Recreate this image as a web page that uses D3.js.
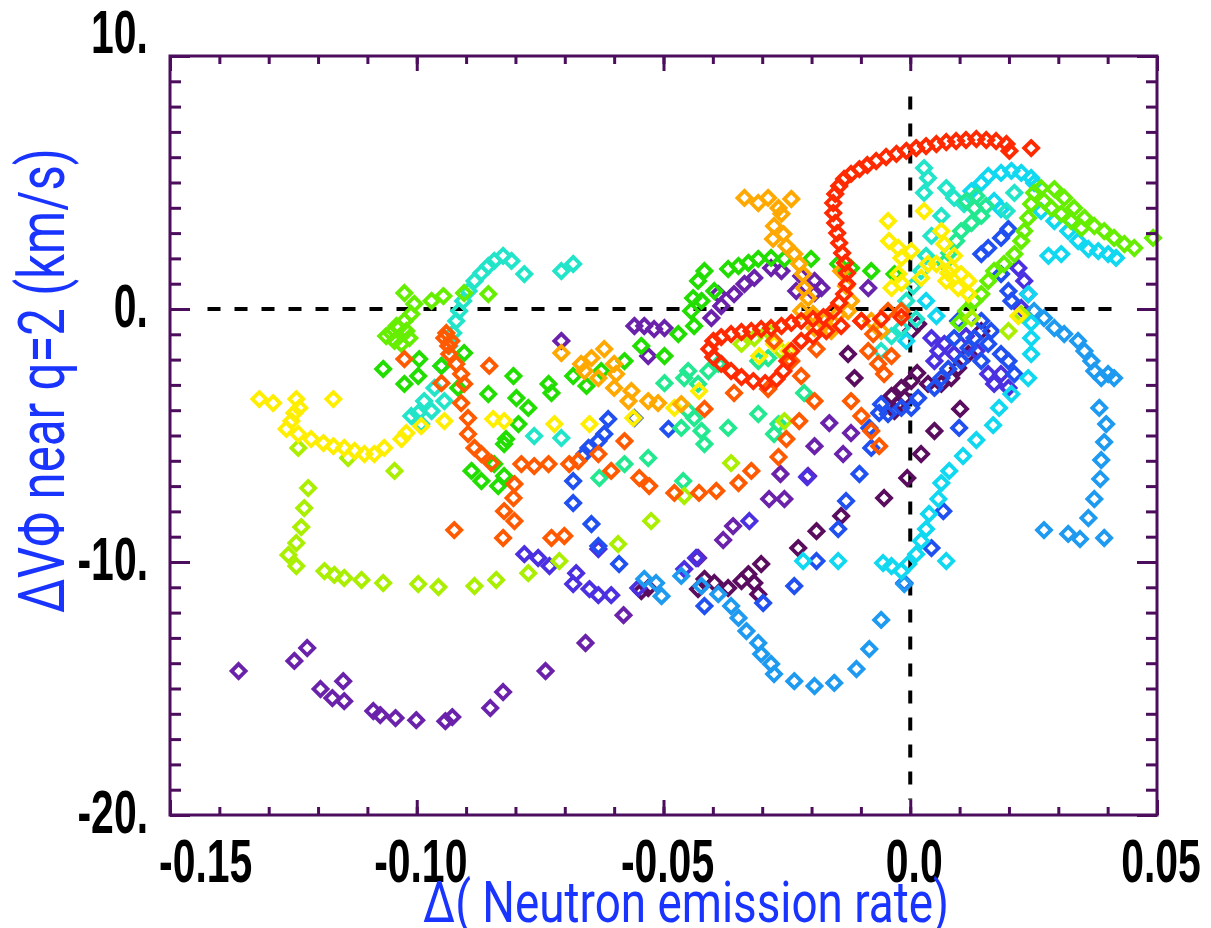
<!DOCTYPE html>
<html><head><meta charset="utf-8">
<script src="https://cdn.jsdelivr.net/npm/d3@7/dist/d3.min.js"></script>
<style>html,body{margin:0;padding:0;background:#fff;}svg{display:block;}</style>
</head><body>
<script>
// ---------------- data ----------------
const xDomain = [-0.15, 0.05];
const yDomain = [-20, 10];
const xTickValues = [-0.15, -0.10, -0.05, 0.0, 0.05];
const xTickLabels = ["-0.15", "-0.10", "-0.05", "0.0", "0.05"];
const yTickValues = [-20, -10, 0, 10];
const yTickLabels = ["-20.", "-10.", "0.", "10."];
const xTitle = "Δ( Neutron emission rate)";
const yTitle = "ΔVΦ near q=2 (km/s)";

const darkPurplePts = [[-0.0430,-11.07],[-0.0417,-10.67],[-0.0397,-10.83],[-0.0369,-11.03],[-0.0342,-10.75],[-0.0328,-10.48],[-0.0316,-10.83],[-0.0308,-11.27],[-0.0302,-10.08],[-0.0227,-9.45],[-0.0190,-8.78],[-0.0545,-11.15],[-0.0531,-11.03],[-0.0140,-8.18],[-0.0053,-7.47],[-0.0006,-6.68],[0.0022,-5.73],[0.0049,-4.82],[0.0101,-3.95],[-0.0018,-3.12],[-0.0012,-3.52],[0.0002,-2.85],[0.0014,-2.53],[-0.0024,-3.76],[0.0016,-0.59],[0.0002,-0.87],[0.0036,-2.96],[0.0063,-2.96],[0.0083,-2.73],[0.0097,-2.33],[0.0118,-1.78],[0.0144,-0.87],[-0.0113,-2.73],[-0.0126,-1.78],[-0.0038,-3.44],[-0.0032,-4.03]];
const purplePts = [[-0.1361,-14.31],[-0.1248,-13.91],[-0.1222,-13.40],[-0.1195,-15.02],[-0.1171,-15.38],[-0.1149,-14.71],[-0.1147,-15.50],[-0.1088,-15.89],[-0.1074,-16.05],[-0.1043,-16.17],[-0.1001,-16.25],[-0.0942,-16.29],[-0.0928,-16.13],[-0.0851,-15.77],[-0.0825,-15.14],[-0.0739,-14.31],[-0.0658,-13.20],[-0.0581,-12.10],[-0.0430,-9.84],[-0.0379,-9.13],[-0.0359,-8.58],[-0.0286,-7.51],[-0.0255,-7.51],[-0.0263,-6.52],[-0.0207,-6.60],[-0.0194,-5.42],[-0.0136,-5.73],[-0.0164,-4.51],[-0.0120,-4.90],[-0.0707,-1.26],[-0.0559,-0.67],[-0.0539,-0.67],[-0.0519,-0.79],[-0.0498,-0.75],[-0.0531,-1.86],[-0.0403,-0.36],[-0.0383,0.12],[-0.0357,0.59],[-0.0336,0.99],[-0.0316,1.23],[-0.0282,1.62],[-0.0261,1.50],[-0.0221,1.30],[-0.0211,0.91],[-0.0231,0.71],[-0.0194,1.11],[-0.0194,0.63],[-0.0180,0.83],[-0.0085,0.83],[-0.0389,0.59]];
const blueVioletPts = [[-0.0782,-9.69],[-0.0754,-9.84],[-0.0731,-10.16],[-0.0683,-10.87],[-0.0677,-10.44],[-0.0650,-11.07],[-0.0632,-11.31],[-0.0606,-11.31],[-0.0632,-9.49],[-0.0551,-11.03],[-0.0458,-10.28],[-0.0434,-9.84],[-0.0209,-6.64],[-0.0326,-8.38],[0.0043,-1.15],[0.0057,-1.66],[0.0049,-2.06],[0.0069,-1.38],[0.0089,-1.78],[0.0219,1.62],[0.0231,1.11],[0.0239,0.59],[0.0225,0.04],[0.0184,-2.57],[0.0170,-2.96],[0.0199,-3.12],[0.0158,-2.57],[0.0113,-1.07],[0.0134,-1.66]];
const bluePts = [[-0.0683,-6.80],[-0.0683,-7.67],[-0.0646,-8.50],[-0.0632,-9.37],[-0.0590,-10.08],[-0.0417,-11.74],[-0.0298,-11.62],[-0.0235,-10.95],[-0.0190,-9.96],[-0.0079,-5.49],[-0.0083,-4.70],[-0.0063,-4.11],[-0.0103,-6.52],[-0.0130,-7.59],[-0.0146,-8.70],[0.0067,-7.99],[0.0043,-9.45],[0.0099,-4.70],[-0.0012,-10.83],[-0.0612,-4.35],[-0.0620,-4.94],[-0.0632,-5.22],[-0.0652,-5.49],[-0.0660,-5.73],[-0.0490,-4.74],[-0.0559,-4.31],[0.0199,3.16],[0.0184,2.81],[0.0158,2.41],[0.0144,2.17],[0.0184,1.38],[0.0199,0.71],[0.0144,-0.47],[0.0130,-1.15],[0.0097,-0.47],[0.0089,-1.15],[0.0118,-1.54],[0.0158,-1.38],[0.0184,-1.78],[0.0199,-2.06],[0.0211,-2.57],[-0.0059,-3.76],[-0.0045,-4.15],[-0.0018,-3.91],[0.0002,-3.91],[0.0016,-3.52],[0.0049,-3.12],[0.0063,-2.73],[0.0077,-2.37],[0.0103,-2.06],[0.0144,-2.06],[0.0164,-0.87],[0.0205,0.32]];
const lightBluePts = [[0.0383,-3.91],[0.0397,-4.55],[0.0393,-5.26],[0.0387,-5.97],[0.0385,-6.72],[0.0373,-7.51],[0.0361,-8.26],[0.0393,-9.05],[0.0344,-9.09],[0.0320,-8.89],[0.0271,-8.74],[0.0387,-2.73],[0.0401,-2.57],[0.0413,-2.73],[0.0373,-2.45],[0.0367,-2.06],[0.0353,-1.66],[0.0340,-1.26],[0.0312,-0.99],[0.0292,-0.75],[0.0271,-0.36],[0.0251,-0.08],[-0.0539,-10.67],[-0.0515,-10.83],[-0.0504,-11.35],[-0.0464,-10.55],[-0.0423,-10.95],[-0.0389,-11.27],[-0.0363,-11.74],[-0.0348,-12.21],[-0.0332,-12.73],[-0.0308,-13.20],[-0.0302,-13.64],[-0.0282,-14.03],[-0.0276,-14.43],[-0.0235,-14.71],[-0.0194,-14.90],[-0.0154,-14.78],[-0.0109,-14.23],[-0.0083,-13.44],[-0.0059,-12.29],[-0.0012,-10.87]];
const cyanPts = [[0.0184,5.38],[0.0205,5.46],[0.0225,5.38],[0.0245,5.18],[0.0251,4.98],[0.0158,5.26],[0.0144,4.98],[0.0124,4.66],[0.0170,4.27],[0.0184,3.95],[0.0265,3.87],[0.0292,3.48],[0.0320,3.08],[0.0340,2.69],[0.0361,2.37],[0.0381,2.29],[0.0401,2.17],[0.0417,2.02],[0.0280,2.10],[0.0306,2.17],[0.0239,0.59],[0.0245,-0.55],[0.0245,-1.15],[0.0245,-1.78],[0.0239,-2.73],[0.0205,-3.36],[0.0180,-3.91],[0.0168,-4.59],[0.0134,-5.18],[0.0107,-5.81],[0.0079,-6.40],[0.0063,-6.88],[0.0057,-7.51],[0.0038,-8.10],[0.0032,-8.70],[0.0022,-9.17],[0.0012,-9.69],[-0.0004,-10.08],[-0.0018,-10.36],[-0.0038,-10.16],[-0.0055,-10.04],[0.0073,-9.96],[-0.0146,-9.96],[-0.0217,-9.96],[0.0032,0.32],[0.0053,-0.28],[-0.0008,-1.26]];
const turquoisePts = [[-0.0825,2.10],[-0.0843,1.90],[-0.0855,1.70],[-0.0869,1.42],[-0.0883,1.11],[-0.0895,0.71],[-0.0906,0.32],[-0.0914,-0.08],[-0.0920,-0.47],[-0.0926,-0.95],[-0.0934,-1.46],[-0.0950,-2.25],[-0.0964,-3.12],[-0.0985,-3.64],[-0.0997,-4.11],[-0.1011,-4.23],[-0.0970,-4.03],[-0.0944,-3.64],[-0.0991,-4.55],[-0.0808,1.90],[-0.0782,1.38],[-0.0707,1.50],[-0.0683,1.78],[-0.0762,-5.02],[-0.0707,-5.10],[0.0028,5.57],[0.0036,5.18],[0.0028,4.59],[0.0073,4.78],[0.0089,4.39],[0.0109,4.15],[0.0063,3.68],[0.0043,2.89],[0.0032,2.10],[0.0022,1.50],[0.0006,0.91],[-0.0008,0.32],[0.0012,-0.40],[-0.0018,-0.75],[-0.0038,-1.07],[-0.0059,-1.66],[0.0211,4.59],[0.0195,3.87]];
const springPts = [[-0.0458,-2.73],[-0.0450,-2.45],[-0.0430,-2.96],[-0.0409,-2.45],[-0.0389,-2.17],[-0.0397,-1.94],[-0.0498,-2.93],[-0.0450,-4.03],[-0.0438,-4.31],[-0.0423,-4.82],[-0.0417,-5.34],[-0.0369,-4.70],[-0.0308,-4.15],[-0.0267,-4.55],[-0.0276,-4.94],[-0.0531,-5.89],[-0.0579,-6.13],[-0.0215,-3.32],[-0.0464,-4.70],[-0.0630,-6.68],[-0.0460,-6.80],[-0.0308,-2.06],[-0.0288,-1.94],[0.0113,4.27],[0.0130,3.99],[0.0144,3.68],[0.0124,3.40],[0.0103,3.08],[0.0093,2.69],[0.0079,2.21],[0.0069,1.82],[0.0134,4.47],[0.0154,4.07]];
const greenPts = [[-0.1068,-2.37],[-0.1025,-2.96],[-0.0997,-2.65],[-0.0995,-1.98],[-0.0950,-2.25],[-0.0904,-1.74],[-0.0855,-3.36],[-0.0916,-3.12],[-0.0869,-6.80],[-0.0843,-6.13],[-0.0823,-5.34],[-0.0835,-7.00],[-0.0823,-6.60],[-0.0889,-6.40],[-0.0804,-2.65],[-0.0798,-3.52],[-0.0774,-3.91],[-0.0794,-4.55],[-0.0819,-5.14],[-0.0733,-2.96],[-0.0727,-3.32],[-0.0683,-2.65],[-0.0656,-3.04],[-0.0626,-2.45],[-0.0579,-2.06],[-0.0545,-1.46],[-0.0498,-1.86],[-0.0470,-0.99],[-0.0438,-0.67],[-0.0440,0.43],[-0.0430,1.11],[-0.0417,1.50],[-0.0397,0.71],[-0.0369,1.58],[-0.0348,1.70],[-0.0328,1.82],[-0.0308,1.98],[-0.0282,2.02],[-0.0255,1.98],[-0.0201,1.98],[-0.0146,1.78],[-0.0120,1.62],[-0.0079,1.50],[-0.0032,1.38],[-0.0423,0.32],[-0.0444,-0.08]];
const limePts = [[-0.1025,0.63],[-0.1005,0.20],[-0.1011,-0.20],[-0.1025,-0.47],[-0.1037,-0.75],[-0.1052,-0.95],[-0.1045,-1.26],[-0.1031,-1.38],[-0.1015,-1.15],[-0.0970,0.32],[-0.0946,0.51],[-0.0904,0.63],[-0.0855,0.59],[-0.1041,-0.67],[-0.1021,-0.87],[-0.1062,-1.07],[0.0251,4.59],[0.0265,4.78],[0.0292,4.74],[0.0312,4.39],[0.0332,3.99],[0.0353,3.60],[0.0373,3.28],[0.0393,3.08],[0.0413,2.81],[0.0434,2.57],[0.0454,2.41],[0.0492,2.81],[0.0245,4.15],[0.0239,3.60],[0.0231,3.08],[0.0225,2.69],[0.0211,2.17],[0.0190,1.78],[0.0170,1.50],[0.0158,1.11],[0.0144,0.59],[0.0130,0.32],[0.0271,4.27],[0.0286,3.99],[0.0306,3.76],[0.0326,3.48],[0.0347,3.20],[0.0113,-0.08],[0.0099,-0.55]];
const yellowGreenPts = [[-0.1240,-5.49],[-0.1220,-7.08],[-0.1228,-7.87],[-0.1234,-8.62],[-0.1244,-9.25],[-0.1260,-9.72],[-0.1244,-10.16],[-0.1187,-10.36],[-0.1167,-10.51],[-0.1147,-10.63],[-0.1112,-10.71],[-0.1068,-10.83],[-0.0997,-10.87],[-0.0956,-10.99],[-0.0883,-10.95],[-0.0839,-10.71],[-0.1045,-6.40],[-0.1139,-5.89],[-0.0774,-10.44],[-0.0711,-9.96],[-0.0592,-9.29],[-0.0525,-8.38],[-0.0458,-7.39],[-0.0363,-6.09],[-0.0342,-1.38],[-0.0316,-1.15],[-0.0288,-0.87],[-0.0255,-4.43],[0.0124,-0.36],[0.0199,-0.87],[0.0225,-0.20],[-0.0261,-1.66]];
const yellowPts = [[-0.1319,-3.56],[-0.1291,-3.72],[-0.1244,-3.56],[-0.1248,-4.11],[-0.1238,-3.91],[-0.1254,-4.43],[-0.1264,-4.74],[-0.1240,-4.94],[-0.1214,-5.14],[-0.1189,-5.30],[-0.1169,-5.42],[-0.1147,-5.49],[-0.1126,-5.61],[-0.1106,-5.73],[-0.1086,-5.73],[-0.1066,-5.49],[-0.1031,-5.14],[-0.1021,-4.90],[-0.0991,-4.63],[-0.0944,-4.43],[-0.1169,-3.56],[-0.0845,-4.35],[-0.0823,-4.43],[-0.0721,-4.55],[-0.0650,-4.55],[-0.0561,-4.31],[-0.0045,3.48],[0.0028,3.87],[-0.0043,2.69],[-0.0024,2.41],[-0.0018,2.02],[0.0002,2.29],[0.0063,3.08],[0.0069,2.57],[0.0053,1.78],[0.0083,1.62],[0.0103,1.38],[0.0118,1.11],[0.0097,0.83],[0.0118,0.59],[0.0077,1.42],[0.0036,1.78],[0.0022,1.23],[0.0219,-0.28],[-0.0018,1.03],[-0.0024,1.38],[-0.0038,0.83],[-0.0276,-1.38],[-0.0306,-1.86],[-0.0247,-1.66],[-0.0478,-3.91],[-0.0428,-3.24],[0.0089,2.10],[0.0073,1.11]];
const orangePts = [[-0.0336,4.39],[-0.0308,4.19],[-0.0288,4.39],[-0.0267,3.99],[-0.0241,4.35],[-0.0261,3.76],[-0.0276,3.28],[-0.0257,2.96],[-0.0278,2.77],[-0.0251,2.49],[-0.0235,2.17],[-0.0225,1.78],[-0.0217,1.38],[-0.0215,0.83],[-0.0207,0.43],[-0.0197,-0.20],[-0.0194,-0.75],[-0.0174,-0.47],[-0.0146,-0.20],[-0.0126,-0.08],[-0.0120,0.32],[-0.0130,0.91],[-0.0140,1.50],[-0.0707,-1.74],[-0.0667,-2.17],[-0.0646,-1.94],[-0.0620,-1.58],[-0.0600,-2.17],[-0.0596,-2.57],[-0.0600,-3.12],[-0.0565,-3.24],[-0.0571,-3.64],[-0.0531,-3.64],[-0.0511,-3.72],[-0.0464,-3.76],[-0.0660,-2.45],[-0.0632,-2.73],[-0.0221,-0.08],[-0.0160,-0.87],[-0.0079,-0.47],[-0.0059,-0.87]];
const orangeRedPts = [[-0.0944,-1.15],[-0.0936,-1.46],[-0.0934,-1.78],[-0.0920,-2.17],[-0.0910,-2.57],[-0.0904,-2.96],[-0.0910,-3.72],[-0.0896,-4.31],[-0.0896,-4.94],[-0.0883,-5.49],[-0.0869,-5.73],[-0.0849,-6.09],[-0.1025,-1.98],[-0.0950,-2.93],[-0.0853,-2.25],[-0.0924,-8.74],[-0.0825,-9.05],[-0.0823,-7.99],[-0.0802,-8.38],[-0.0804,-7.47],[-0.0802,-6.92],[-0.0788,-6.13],[-0.0762,-6.21],[-0.0733,-6.13],[-0.0727,-9.05],[-0.0701,-8.97],[-0.0691,-6.13],[-0.0673,-6.01],[-0.0632,-5.73],[-0.0606,-6.40],[-0.0549,-6.68],[-0.0529,-7.00],[-0.0478,-7.27],[-0.0428,-7.27],[-0.0393,-7.19],[-0.0348,-6.88],[-0.0322,-6.40],[-0.0267,-5.85],[-0.0579,-5.22],[-0.0417,-3.95],[-0.0357,-3.32],[-0.0276,-1.26],[-0.0241,-2.06],[-0.0221,-2.65],[-0.0225,-4.43],[-0.0251,-5.14],[-0.0194,-3.64],[-0.0190,-1.58],[-0.0288,-3.16],[-0.0085,-1.66],[-0.0065,-2.17],[-0.0053,-2.57],[-0.0038,-1.86],[-0.0075,-0.99],[-0.0099,-0.47],[-0.0045,-0.08],[-0.0018,-0.08],[-0.0120,-3.64],[-0.0099,-4.23],[-0.0079,-4.82],[-0.0063,-5.42],[-0.0940,-0.95],[-0.0930,-1.26]];
const redPts = [[0.0245,6.36],[0.0201,6.25],[0.0195,6.52],[0.0174,6.64],[0.0154,6.68],[0.0134,6.72],[0.0113,6.68],[0.0093,6.64],[0.0073,6.60],[0.0053,6.52],[0.0032,6.44],[0.0012,6.36],[-0.0008,6.25],[-0.0028,6.13],[-0.0049,6.01],[-0.0069,5.85],[-0.0087,5.69],[-0.0103,5.53],[-0.0120,5.34],[-0.0134,5.14],[-0.0144,4.86],[-0.0152,4.55],[-0.0156,4.19],[-0.0156,3.79],[-0.0152,3.40],[-0.0148,3.00],[-0.0144,2.61],[-0.0138,2.21],[-0.0132,1.82],[-0.0128,1.42],[-0.0128,0.99],[-0.0134,0.59],[-0.0144,0.24],[-0.0156,-0.08],[-0.0176,-0.32],[-0.0197,-0.40],[-0.0221,-0.47],[-0.0241,-0.55],[-0.0261,-0.67],[-0.0282,-0.75],[-0.0302,-0.79],[-0.0322,-0.87],[-0.0342,-0.91],[-0.0363,-0.99],[-0.0383,-1.11],[-0.0399,-1.26],[-0.0407,-1.58],[-0.0399,-1.90],[-0.0383,-2.17],[-0.0363,-2.45],[-0.0342,-2.69],[-0.0318,-2.85],[-0.0294,-2.93],[-0.0271,-2.77],[-0.0257,-2.45],[-0.0249,-2.06],[-0.0241,-1.66],[-0.0221,-1.26],[-0.0197,-1.07],[-0.0170,-0.87],[-0.0140,-0.67],[-0.0099,-0.47],[-0.0059,-0.40],[-0.0018,-0.32]];

const seriesNames  = ["darkPurple","purple","blueViolet","blue","lightBlue","cyan","turquoise","spring","green","lime","yellowGreen","yellow","orange","orangeRed","red"];
const seriesColors = ["#5a0d5e","#6a22aa","#4a30e0","#2050f0","#1e9af0","#10d8f0","#22e4c8","#22e890","#22dd00","#66ee00","#aaee00","#ffee00","#ffa800","#ff5a00","#ff2a00"];
const seriesPoints = [darkPurplePts,purplePts,blueVioletPts,bluePts,lightBluePts,cyanPts,turquoisePts,springPts,greenPts,limePts,yellowGreenPts,yellowPts,orangePts,orangeRedPts,redPts];

// ---------------- layout ----------------
const W = 1211, H = 928;
const M = {left:170, right:54, top:56, bottom:113};
const frameColor = "#4b0d5c";

const svg = d3.select("body").append("svg").attr("width", W).attr("height", H);
const x = d3.scaleLinear().domain(xDomain).range([M.left, W - M.right]);
const y = d3.scaleLinear().domain(yDomain).range([H - M.bottom, M.top]);

// dashed reference lines
const plot = svg.append("g");
plot.append("line")
  .attr("x1", x(-0.1424)).attr("x2", x(0.0427))
  .attr("y1", y(0)).attr("y2", y(0))
  .attr("stroke", "#000").attr("stroke-width", 4).attr("stroke-dasharray", "13,14");
plot.append("line")
  .attr("x1", x(0)).attr("x2", x(0))
  .attr("y1", y(8.4)).attr("y2", y(-19.4))
  .attr("stroke", "#000").attr("stroke-width", 4).attr("stroke-dasharray", "13,14");

// diamonds
const diamond = "M0,-7L7,0L0,7L-7,0Z";
seriesPoints.forEach((pts, i) => {
  plot.append("g").attr("class", seriesNames[i])
    .selectAll("path").data(pts).join("path")
    .attr("d", diamond)
    .attr("transform", d => `translate(${x(d[0])},${y(d[1])})`)
    .attr("fill", "none")
    .attr("stroke", seriesColors[i])
    .attr("stroke-width", 3.8);
});

// frame
svg.append("rect")
  .attr("x", x(xDomain[0])).attr("y", y(yDomain[1]))
  .attr("width", x(xDomain[1]) - x(xDomain[0]))
  .attr("height", y(yDomain[0]) - y(yDomain[1]))
  .attr("fill", "none").attr("stroke", frameColor).attr("stroke-width", 3);

// axes ticks via d3 axis (inward ticks, no labels)
function styleAxis(g){ g.select(".domain").remove(); g.selectAll("line").attr("stroke", frameColor).attr("stroke-width", 3); g.selectAll("text").remove(); }
const xMinor = d3.range(-0.15, 0.0501, 0.01).map(v => +v.toFixed(2));
const yMinor = d3.range(-20, 10.01, 1);
const yT = H - M.bottom, yTop = M.top, xL = M.left, xR = W - M.right;
svg.append("g").attr("transform", `translate(0,${yT})`).call(d3.axisTop(x).tickValues(xMinor).tickSize(8)).call(styleAxis);
svg.append("g").attr("transform", `translate(0,${yT})`).call(d3.axisTop(x).tickValues(xTickValues).tickSize(15)).call(styleAxis);
svg.append("g").attr("transform", `translate(0,${yTop})`).call(d3.axisBottom(x).tickValues(xMinor).tickSize(8)).call(styleAxis);
svg.append("g").attr("transform", `translate(0,${yTop})`).call(d3.axisBottom(x).tickValues(xTickValues).tickSize(15)).call(styleAxis);
svg.append("g").attr("transform", `translate(${xL},0)`).call(d3.axisRight(y).tickValues(yMinor).tickSize(11)).call(styleAxis);
svg.append("g").attr("transform", `translate(${xL},0)`).call(d3.axisRight(y).tickValues(yTickValues).tickSize(20)).call(styleAxis);
svg.append("g").attr("transform", `translate(${xR},0)`).call(d3.axisLeft(y).tickValues(yMinor).tickSize(11)).call(styleAxis);
svg.append("g").attr("transform", `translate(${xR},0)`).call(d3.axisLeft(y).tickValues(yTickValues).tickSize(20)).call(styleAxis);

// tick labels (bold condensed)
const tickFont = "'Liberation Sans', Arial, sans-serif";
const squeeze = 0.66;
xTickValues.forEach((v, i) => {
  const g = svg.append("g");
  const t = g.append("text").text(xTickLabels[i])
    .attr("font-family", tickFont).attr("font-weight", "bold").attr("font-size", 62)
    .attr("text-anchor", "middle").attr("fill", "#000");
  const half = t.node().getComputedTextLength() * squeeze / 2;
  const cx = Math.max(x(v) + 4, 159 + half);
  g.attr("transform", `translate(${cx},882) scale(${squeeze},1)`);
});
yTickValues.forEach((v, i) => {
  const base = v === yDomain[1] ? y(v) - 3 : y(v) + 18;
  svg.append("g").attr("transform", `translate(148,${base}) scale(${squeeze},1)`)
    .append("text").text(yTickLabels[i])
    .attr("font-family", tickFont).attr("font-weight", "bold").attr("font-size", 62)
    .attr("text-anchor", "end").attr("fill", "#000");
});

// axis titles
const titleFont = "'Liberation Sans Narrow', 'Roboto', 'Noto Sans', sans-serif";
const titleColor = "#1a34ff";
svg.append("text").text(xTitle)
  .attr("x", 423).attr("y", 922)
  .attr("font-family", titleFont).attr("font-size", 58).attr("fill", titleColor)
  .attr("textLength", 526).attr("lengthAdjust", "spacingAndGlyphs");
svg.append("text").text(yTitle)
  .attr("transform", "translate(64,613) rotate(-90)")
  .attr("font-family", titleFont).attr("font-size", 64).attr("fill", titleColor)
  .attr("textLength", 465).attr("lengthAdjust", "spacingAndGlyphs");
</script>
</body></html>
